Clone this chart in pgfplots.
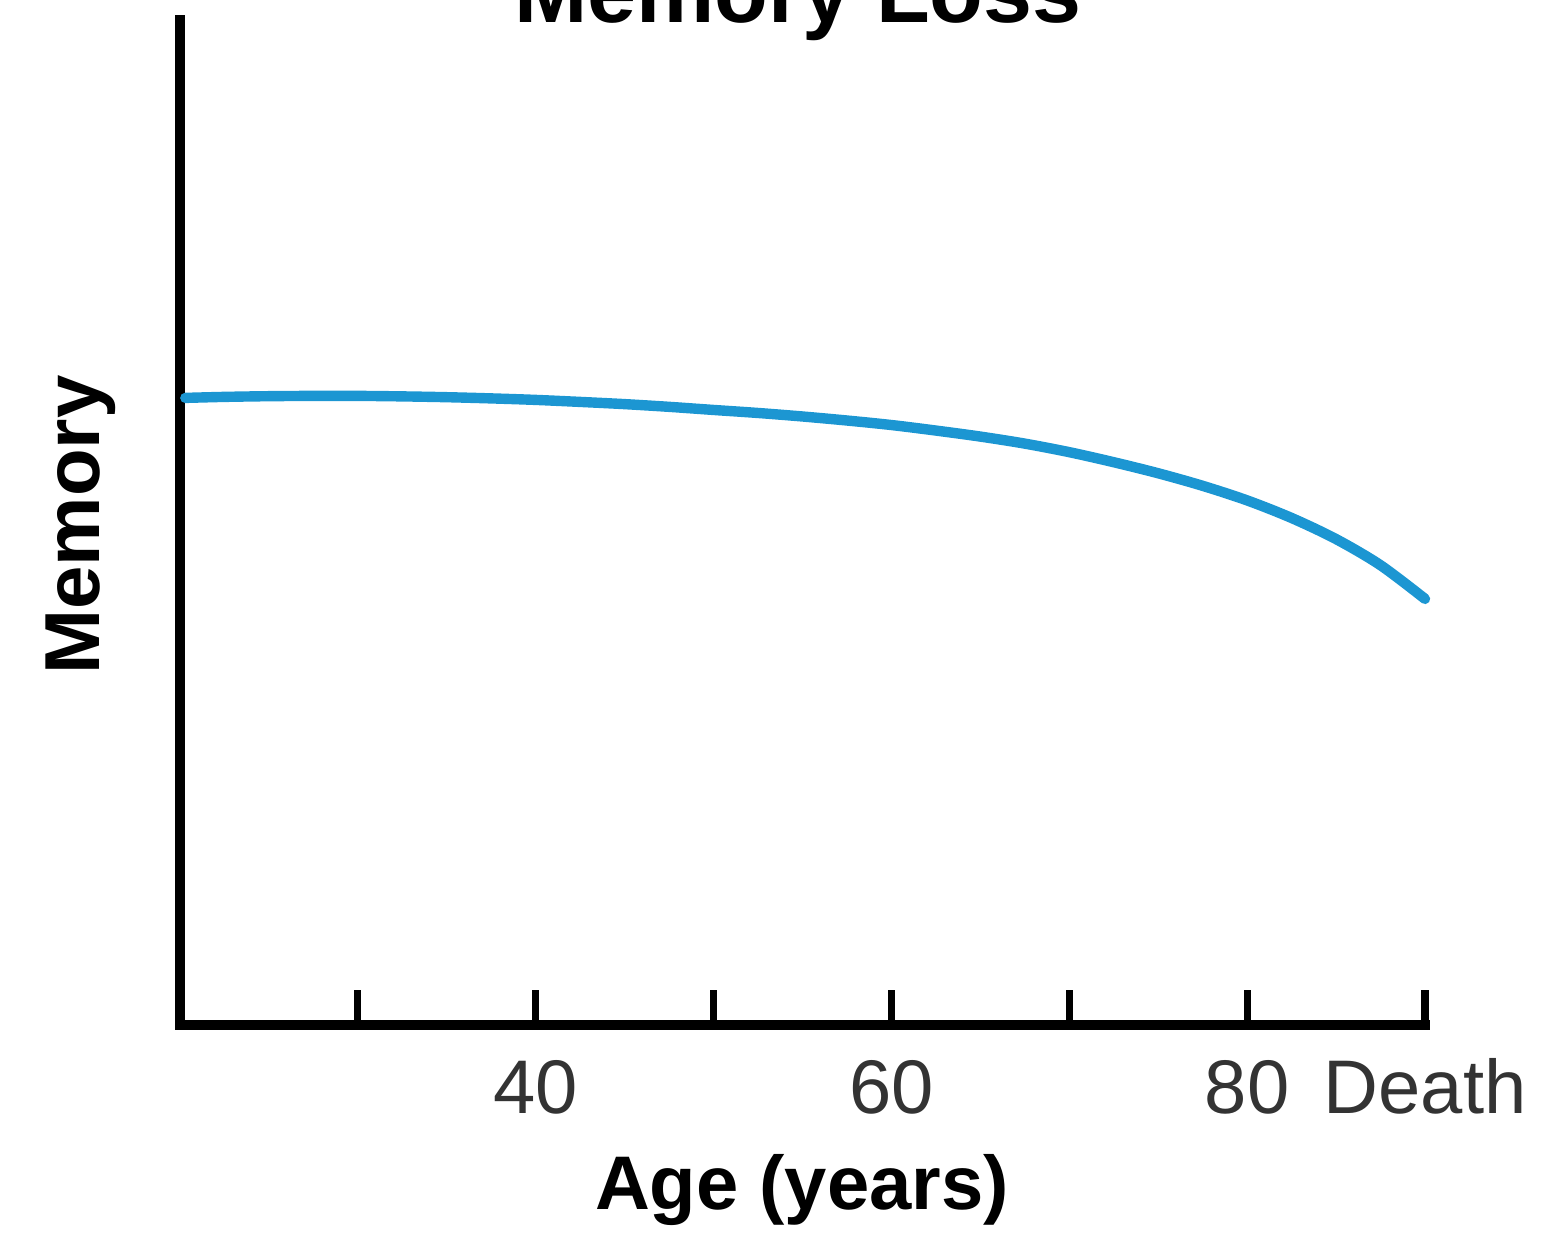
\documentclass[border=0pt]{standalone}
\usepackage{fontspec}
\setmainfont{Liberation Sans}
\usepackage{pgfplots}
\pgfplotsset{compat=1.18}

\definecolor{curveblue}{RGB}{28,150,210}

\pgfplotstableread{
age memory
20.3 62.4
22.5 62.5
25 62.57
27.5 62.6
30 62.6
32.5 62.55
35 62.47
37.5 62.35
40 62.2
42.5 62.0
45 61.78
47.5 61.51
50 61.2
52.5 60.9
55 60.55
57.5 60.15
60 59.7
62.5 59.15
65 58.55
67.5 57.85
70 57.0
72.5 56.0
75 54.9
77.5 53.65
80 52.2
82.5 50.45
85 48.35
87.5 45.75
90 42.4
}\memorydata

\begin{document}
\begin{tikzpicture}
\begin{axis}[
    scale only axis,
    width=311.25pt,
    height=251.25pt,
    xmin=20, xmax=90,
    ymin=0, ymax=100,
    axis lines*=left,
    axis line style={line width=2.5pt, line cap=rect},
    xtick={30,40,50,60,70,80,90},
    xticklabels={,40,,60,,80,Death},
    ytick=\empty,
    tick align=inside,
    major tick length=8.75pt,
    xtick style={line width=1.8pt, black},
    xticklabel style={font=\fontsize{19}{22}\selectfont, text=black!80, anchor=base, yshift=-22pt, inner sep=0pt},
    xlabel={\textbf{Age (years)}},
    xlabel style={at={(axis description cs:0.4996,-0.184)}, anchor=base, font=\fontsize{19}{22}\selectfont, inner sep=0pt},
    ylabel={\textbf{Memory}},
    ylabel style={at={(axis description cs:-0.0643,0.4975)}, anchor=base, rotate=0, font=\fontsize{19.5}{22}\selectfont, inner sep=0pt},
    title={\textbf{Memory Loss}},
    every axis title shift=0pt,
    title style={at={(axis description cs:0.4964,0.998)}, anchor=base, font=\fontsize{22}{26}\selectfont, inner sep=0pt},
    clip=false,
]
\addplot[curveblue, line width=2.6pt, smooth, line cap=round] table[x=age, y=memory] {\memorydata};
\end{axis}
\pgfresetboundingbox
\useasboundingbox (-45pt,-52.25pt) rectangle (344.5pt,256.25pt);
\end{tikzpicture}
\end{document}
